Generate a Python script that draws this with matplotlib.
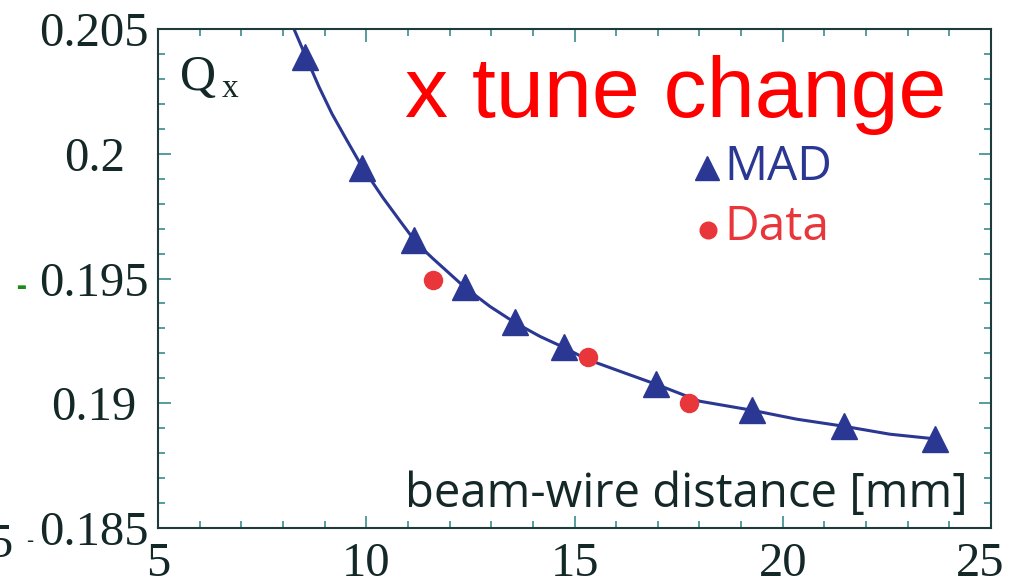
#!/usr/bin/env python3
# -*- coding: utf-8 -*-

"""
	x tune change vs beam-wire distance
"""

import matplotlib
matplotlib.use("Agg")
import matplotlib.pyplot as plt
from matplotlib.ticker import MultipleLocator
from matplotlib.transforms import ScaledTranslation

# MAD 计算值
mad_x = [8.52, 9.90, 11.15, 12.37, 13.56, 14.74, 16.96, 19.26, 21.46, 23.66]
mad_y = [0.20388, 0.19944, 0.19656, 0.19464, 0.19324, 0.19224, 0.19076, 0.18972, 0.18908, 0.18856]

# 测量数据
data_x = [11.60, 15.33, 17.75]
data_y = [0.19492, 0.19184, 0.19000]

# 拟合曲线 (从图上读取的点)
curve_x = [8.265, 8.553, 8.866, 9.178, 9.514, 9.898, 10.40, 10.858, 11.218, 11.60,
	12.37, 12.97, 13.56, 14.17, 14.74, 15.30, 16.16, 16.96, 18.01, 19.26,
	20.34, 21.46, 22.57, 23.73]
curve_y = [0.20500, 0.20388, 0.20268, 0.20160, 0.20060, 0.19948, 0.19824, 0.19720, 0.19640, 0.19580,
	0.19464, 0.19388, 0.19324, 0.19268, 0.19224, 0.19176, 0.19124, 0.19076, 0.19008, 0.18972,
	0.18936, 0.18908, 0.18876, 0.18856]

xticks = [5, 10, 15, 20, 25]
yticks = [0.185, 0.19, 0.195, 0.2, 0.205]
ytick_labels = ["0.185", "0.19", "0.195", "0.2", "0.205"]

blue = "#2b3893"
red = "#e8363a"
spine_col = "#1e3a3a"
tick_col = "#3a8c8c"
label_col = "#142828"

serif = ["Liberation Serif", "DejaVu Serif"]
sans = ["Open Sans", "DejaVu Sans"]

fig = plt.figure(figsize=(10.09, 5.85), dpi=100)
ax = fig.add_axes([158 / 1009, 1 - 528 / 585, 833 / 1009, 499 / 585])

ax.plot(curve_x, curve_y, color=blue, lw=2.2, zorder=2, solid_joinstyle="round")
ax.plot(mad_x, mad_y, ls="none", marker="^", ms=19, color=blue, zorder=3)
ax.plot(data_x, data_y, ls="none", marker="o", ms=14, color=red, mec="none", zorder=4)

ax.set_xlim(5, 25)
ax.set_ylim(0.185, 0.205)
ax.set_xticks(xticks)
ax.set_yticks(yticks)
ax.set_yticklabels(ytick_labels)
ax.xaxis.set_minor_locator(MultipleLocator(1))
ax.yaxis.set_minor_locator(MultipleLocator(0.001))

for s in ax.spines.values():
	s.set_color(spine_col)
	s.set_linewidth(1.5)

ax.tick_params(which="both", direction="in", top=True, right=True, color=tick_col, width=1.2)
ax.tick_params(which="major", length=9)
ax.tick_params(which="minor", length=5)
ax.tick_params(axis="x", which="major", pad=10, labelsize=35, labelcolor=label_col)
ax.tick_params(axis="y", which="major", pad=46, labelsize=35, labelcolor=label_col)
for lab in ax.get_xticklabels() + ax.get_yticklabels():
	lab.set_family(serif)
for lab in ax.get_yticklabels():
	lab.set_ha("center")

# 最右边的 25 往左挪一点
last = ax.xaxis.get_major_ticks()[-1].label1
last.set_transform(last.get_transform() + ScaledTranslation(-0.11, 0, fig.dpi_scale_trans))

# 文字
fig.text(405 / 1009, 1 - 117 / 585, "x tune change", fontsize=62,
	color="#ff0000", family=["Liberation Sans", "DejaVu Sans"], ha="left", va="baseline")
fig.text(180 / 1009, 1 - 90 / 585, "Q", fontsize=36, family=serif, color=label_col, va="baseline")
fig.text(222 / 1009, 1 - 97 / 585, "x", fontsize=24, family=serif, color=label_col, va="baseline")
fig.text(405 / 1009, 1 - 507 / 585, "beam-wire distance [mm]", fontsize=34, family=sans,
	color=label_col, va="baseline")

# 图例
fig.text(724 / 1009, 1 - 180 / 585, "MAD", fontsize=34.5, family=sans, color=blue, va="baseline")
fig.text(724 / 1009, 1 - 240 / 585, "Data", fontsize=34.5, family=sans, color=red, va="baseline")
fig.lines.append(plt.Line2D([707 / 1009], [1 - 168 / 585], transform=fig.transFigure,
	marker="^", ms=17, color=blue, ls="none"))
fig.lines.append(plt.Line2D([708 / 1009], [1 - 230 / 585], transform=fig.transFigure,
	marker="o", ms=13, color=red, mec="none", ls="none"))

# 左侧残留字符
fig.text(12 / 1009, 1 - 540 / 585, "5", fontsize=35, family=serif, color=label_col, ha="right", va="center_baseline")
fig.text(21 / 1009, 1 - 287 / 585, "-", fontsize=22, family=sans, color="#1a8a1a", ha="center", va="center", weight="bold")
fig.text(30 / 1009, 1 - 541 / 585, "-", fontsize=16, family=sans, color=label_col, ha="center", va="center")

fig.savefig("out.png", dpi=100)
